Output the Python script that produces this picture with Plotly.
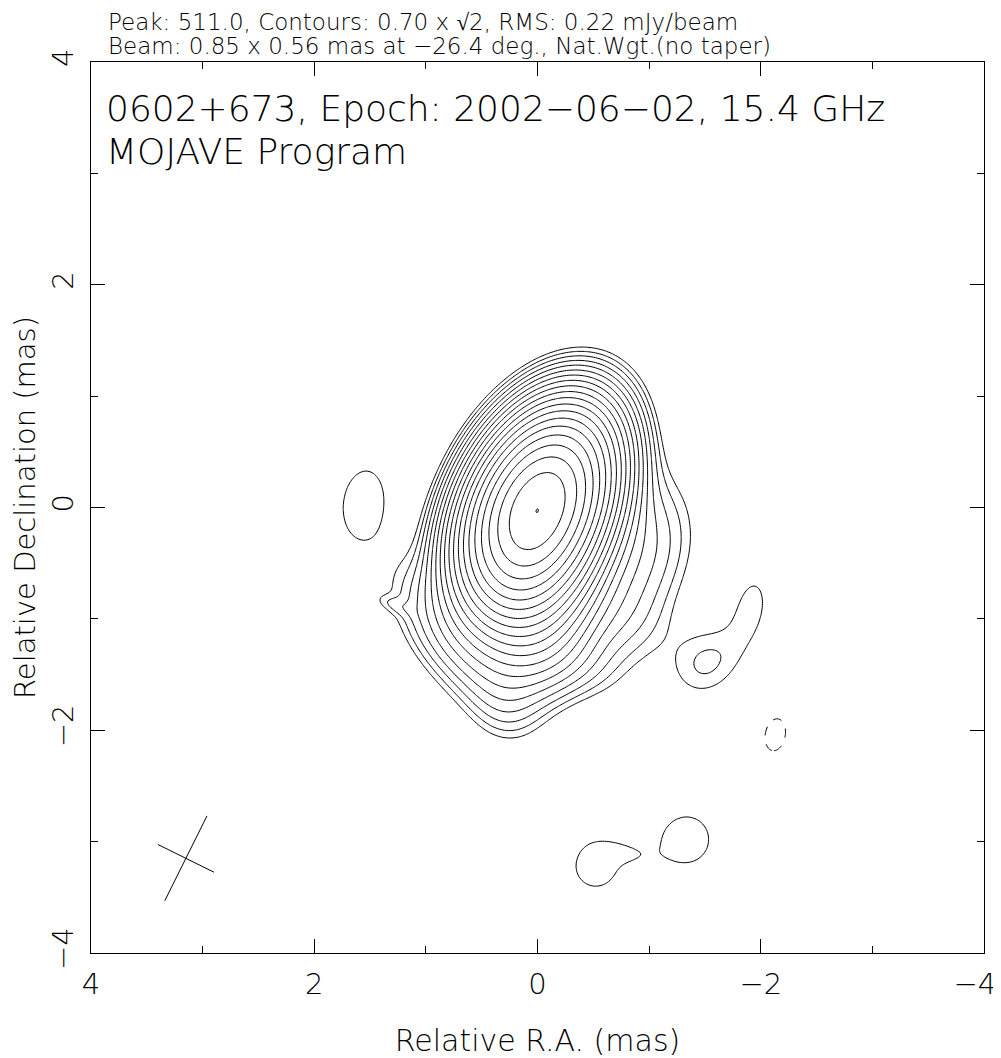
import numpy as np
import plotly.graph_objects as go

# ---------------- data ----------------
source_name = "0602+673"
epoch = "2002\u221206\u221202"
freq_ghz = 15.4
peak_mjy = 511.0
lowest_contour = 0.70
contour_step = np.sqrt(2.0)
rms_mjy = 0.22
beam_major = 0.85
beam_minor = 0.56
beam_pa = -26.4
beam_x = 3.15
beam_y = -3.15

# image-plane (beam-convolved) Gaussian components of the map (mJy/beam, mas, deg)
comp_amp = [478.0, 55.0, 9.0, 1.6, 0.75, 2.5, 0.8, 2.2, 0.5, 0.8,
            0.92, 1.02, 0.8, -0.85, 0.84, 0.24, 0.95]
comp_x = [0.0, 0.0, 0.02, 0.15, 0.3, -0.8, -0.7, 0.75, 1.3, -0.35,
          1.56, -1.51, -1.92, -2.13, -0.52, -0.82, -1.34]
comp_y = [0.0, -0.42, -0.95, -1.3, -1.78, -0.4, -1.0, -1.15, -0.87, -1.4,
          0.045, -1.40, -0.88, -2.04, -3.22, -3.1, -2.98]
comp_maj = [1.0, 0.9, 0.85, 0.8, 0.6, 1.1, 0.8, 1.1, 0.3, 0.8,
            0.9, 0.62, 0.75, 0.55, 0.7, 0.45, 0.6]
comp_min = [0.62, 0.62, 0.7, 0.7, 0.5, 0.8, 0.6, 0.55, 0.12, 0.5,
            0.55, 0.52, 0.38, 0.34, 0.68, 0.18, 0.58]
comp_pa = [-26.0, -20.0, -10.0, 0.0, 20.0, -20.0, 60.0, 39.0, 70.0, 70.0,
           -8.0, -37.0, -10.0, -10.0, 0.0, 80.0, 0.0]

x_tick_vals = [4, 2, 0, -2, -4]
x_tick_text = ["4", "2", "0", "\u22122", "\u22124\u00a0\u00a0"]
y_tick_vals = [-4, -2, 0, 2, 4]
minor_ticks = [-3, -1, 1, 3]

# ---------------- model image ----------------
gx = np.round(np.linspace(-4.0, 4.0, 401), 3)
gy = np.round(np.linspace(-4.0, 4.0, 401), 3)
X, Y = np.meshgrid(gx, gy)
img = np.zeros_like(X)
k = 4.0 * np.log(2.0)
for a, x0, y0, mj, mn, pa in zip(comp_amp, comp_x, comp_y, comp_maj, comp_min, comp_pa):
    t = np.radians(pa)
    dx = X - x0
    dy = Y - y0
    u = dx * np.sin(t) + dy * np.cos(t)
    v = dx * np.cos(t) - dy * np.sin(t)
    img += a * np.exp(-k * ((u / mj) ** 2 + (v / mn) ** 2))

n_lev = int(np.floor(np.log(peak_mjy / lowest_contour) / np.log(contour_step)))
lstep = np.log(contour_step)
zpos = np.where(img > 0.05, np.log(np.clip(img, 1e-9, None) / lowest_contour) / lstep, -10.0)
zneg = np.where(img < -0.05, np.log(np.clip(-img, 1e-9, None) / lowest_contour) / lstep, -10.0)
zpos = np.round(zpos, 3)
zneg = np.round(zneg, 3)

black = [[0, "black"], [1, "black"]]
fig = go.Figure()
fig.add_trace(go.Contour(
    x=gx, y=gy, z=zpos, autocontour=False,
    contours=dict(start=0, end=n_lev, size=1, coloring="lines"),
    colorscale=black, showscale=False, line=dict(width=1, smoothing=1),
    hoverinfo="skip"))
fig.add_trace(go.Contour(
    x=gx, y=gy, z=zneg, autocontour=False,
    contours=dict(start=0, end=0.5, size=1, coloring="lines"),
    colorscale=black, showscale=False, line=dict(width=1, dash="dash", smoothing=1),
    hoverinfo="skip"))

# beam cross
t = np.radians(beam_pa)
ma = np.array([np.sin(t), np.cos(t)]) * beam_major / 2
mi = np.array([np.cos(t), -np.sin(t)]) * beam_minor / 2
fig.add_trace(go.Scatter(x=[beam_x - ma[0], beam_x + ma[0]], y=[beam_y - ma[1], beam_y + ma[1]],
                         mode="lines", line=dict(color="black", width=1), hoverinfo="skip"))
fig.add_trace(go.Scatter(x=[beam_x - mi[0], beam_x + mi[0]], y=[beam_y - mi[1], beam_y + mi[1]],
                         mode="lines", line=dict(color="black", width=1), hoverinfo="skip"))

FONT = "DejaVu Sans"
W = 200
axis_common = dict(
    ticks="inside", ticklen=14, tickwidth=1, tickcolor="black",
    showline=True, linecolor="black", linewidth=1, mirror="ticks",
    showgrid=False, zeroline=False, automargin=False, ticklabeloverflow="allow",
    minor=dict(tickvals=minor_ticks, ticks="inside", ticklen=7, tickwidth=1, tickcolor="black", showgrid=False),
    tickfont=dict(family=FONT, size=29, color="black", weight=W),
)
# the page body has an 8 px margin; the figure is sized so the plot frame lands at 91..984 x 62..953
fig.update_layout(
    width=993, height=1050, autosize=False,
    margin=dict(l=83, r=17, t=54, b=105, pad=0),
    paper_bgcolor="white", plot_bgcolor="white", showlegend=False,
    font=dict(family=FONT, size=28, color="black", weight=W),
    xaxis=dict(range=[4, -4], ticklabelstandoff=5, tickvals=x_tick_vals, ticktext=x_tick_text,
               title=dict(text="Relative R.A. (mas)", standoff=31,
                          font=dict(family=FONT, size=30, color="black", weight=W)),
               **axis_common),
    yaxis=dict(range=[-4, 4], tickangle=-90, ticklabelstandoff=5, tickvals=y_tick_vals,
               title=dict(text="Relative Declination (mas)", standoff=37,
                          font=dict(family=FONT, size=29, color="black", weight=W)),
               **axis_common),
)
hdr1 = f"Peak: {peak_mjy:.1f}, Contours: {lowest_contour:.2f} x \u221a2, RMS: {rms_mjy:.2f} mJy/beam"
hdr2 = f"Beam: {beam_major:.2f} x {beam_minor:.2f} mas at \u2212{abs(beam_pa):.1f} deg., Nat.Wgt.(no taper)"
lbl1 = f"{source_name}, Epoch: {epoch}, {freq_ghz:.1f} GHz"
lbl2 = "MOJAVE Program"
for txt, xx, yy, sz in [(hdr1, 0.017, 1.0449, 23), (hdr2, 0.017, 1.0180, 23),
                        (lbl1, 0.014, 0.948, 36), (lbl2, 0.014, 0.899, 36)]:
    fig.add_annotation(text=txt, xref="paper", yref="paper", x=xx, y=yy,
                       xanchor="left", yanchor="middle", showarrow=False,
                       font=dict(family=FONT, size=sz, color="black", weight=W))

fig.write_html("out.html")
